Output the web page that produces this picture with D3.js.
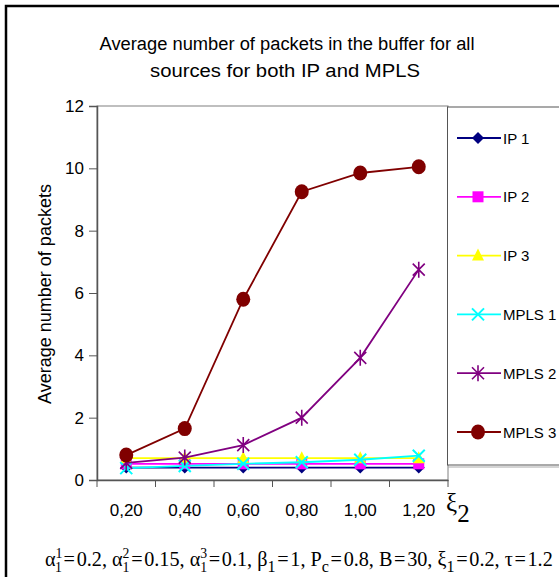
<!DOCTYPE html>
<html><head><meta charset="utf-8">
<script src="https://cdn.jsdelivr.net/npm/d3@7/dist/d3.min.js"></script>
<style>body{margin:0;background:#fff}svg{display:block}</style>
</head><body>
<svg id="chart" width="559" height="577"></svg>
<script>
const categories = ["0,20","0,40","0,60","0,80","1,00","1,20"];
const ip1   = [0.40,0.40,0.40,0.40,0.40,0.40];
const ip2   = [0.52,0.52,0.52,0.52,0.52,0.52];
const ip3   = [0.70,0.70,0.70,0.70,0.70,0.70];
const mpls1 = [0.38,0.45,0.52,0.57,0.65,0.78];
const mpls2 = [0.55,0.72,1.12,2.00,3.92,6.75];
const mpls3 = [0.80,1.65,5.80,9.25,9.85,10.05];
const seriesNames = ["IP 1","IP 2","IP 3","MPLS 1","MPLS 2","MPLS 3"];
const yTicks = [0,2,4,6,8,10,12];

const series = [
  {name:seriesNames[0], values:ip1,   color:"#000080", marker:"diamond"},
  {name:seriesNames[1], values:ip2,   color:"#FF00FF", marker:"square"},
  {name:seriesNames[2], values:ip3,   color:"#FFFF00", marker:"triangle"},
  {name:seriesNames[3], values:mpls1, color:"#00FFFF", marker:"x"},
  {name:seriesNames[4], values:mpls2, color:"#800080", marker:"star"},
  {name:seriesNames[5], values:mpls3, color:"#800000", marker:"circle"}
];

const svg = d3.select("#chart");
const L=97, R=448, T=106, B=480;
const sans = "'Liberation Sans', Arial, sans-serif";
const serif = "'Liberation Serif', 'Times New Roman', serif";

// outer frame
svg.append("rect").attr("x",6).attr("y",6).attr("width",620).attr("height",620)
  .attr("fill","none").attr("stroke","#000").attr("stroke-width",2.5);

// title
svg.append("text").attr("x",287).attr("y",50).attr("text-anchor","middle")
  .attr("font-family",sans).attr("font-size",18).attr("fill","#000")
  .attr("textLength",375).attr("lengthAdjust","spacingAndGlyphs")
  .text("Average number of packets in the buffer for all");
svg.append("text").attr("x",285).attr("y",77).attr("text-anchor","middle")
  .attr("font-family",sans).attr("font-size",18).attr("fill","#000")
  .attr("textLength",270).attr("lengthAdjust","spacingAndGlyphs")
  .text("sources for both IP and MPLS");

const x = d3.scaleBand().domain(categories).range([L,R]);
const y = d3.scaleLinear().domain([0,12]).range([B,T]);

// plot frame
svg.append("rect").attr("x",L).attr("y",T).attr("width",R-L).attr("height",B-T)
  .attr("fill","#fff").attr("stroke","#808080").attr("stroke-width",1);

// y axis
const ya = svg.append("g").attr("transform",`translate(${L},0)`)
  .call(d3.axisLeft(y).tickValues(yTicks).tickSize(8).tickPadding(5).tickFormat(d3.format("d")));
ya.select(".domain").attr("stroke","#555").attr("stroke-width",1.5);
ya.selectAll(".tick line").attr("stroke","#555");
ya.selectAll("text").attr("font-family",sans).attr("font-size",17).attr("fill","#000");

// x axis labels
const xa = svg.append("g").attr("transform",`translate(0,${B})`)
  .call(d3.axisBottom(x).tickSize(0).tickPadding(24));
xa.select(".domain").attr("stroke","#555").attr("stroke-width",1.5);
xa.selectAll("text").attr("font-family",sans).attr("font-size",17).attr("fill","#000");
// x boundary ticks
const bounds = categories.map(c=>x(c)).concat([x(categories[categories.length-1])+x.bandwidth()]);
svg.append("g").selectAll("line").data(bounds).join("line")
  .attr("x1",d=>d).attr("x2",d=>d).attr("y1",B).attr("y2",B+7)
  .attr("stroke","#555").attr("stroke-width",1);

// xi_2
svg.append("text").attr("x",446).attr("y",511).attr("font-family",serif).attr("font-size",25)
  .text("ξ").append("tspan").attr("dy",11).text("2");

// y label
svg.append("text").attr("transform","translate(51,294) rotate(-90)").attr("text-anchor","middle")
  .attr("font-family",sans).attr("font-size",18).attr("fill","#000")
  .text("Average number of packets");

function drawMarker(g, type, color){
  switch(type){
    case "diamond":
      g.append("path").attr("d","M0,-6L6,0L0,6L-6,0Z").attr("fill",color); break;
    case "square":
      g.append("rect").attr("x",-5.5).attr("y",-5.5).attr("width",11).attr("height",11).attr("fill",color); break;
    case "triangle":
      g.append("path").attr("d","M0,-7L6,5L-6,5Z").attr("fill",color); break;
    case "x":
      g.append("path").attr("d","M-6,-6L6,6M-6,6L6,-6").attr("stroke",color).attr("stroke-width",2).attr("fill","none"); break;
    case "star":
      g.append("path").attr("d","M-6,-6L6,6M-6,6L6,-6M0,-8L0,8").attr("stroke",color).attr("stroke-width",1.6).attr("fill","none"); break;
    case "circle":
      g.append("ellipse").attr("rx",7).attr("ry",7.5).attr("fill",color); break;
  }
}

const line = d3.line().x((d,i)=>x(categories[i])+x.bandwidth()/2).y(d=>y(d));
series.forEach(s=>{
  const g = svg.append("g");
  g.append("path").datum(s.values).attr("d",line).attr("fill","none")
    .attr("stroke",s.color).attr("stroke-width",1.8);
  s.values.forEach((v,i)=>{
    const m = g.append("g").attr("transform",`translate(${x(categories[i])+x.bandwidth()/2},${y(v)})`);
    drawMarker(m,s.marker,s.color);
  });
});

// legend
svg.append("line").attr("x1",448).attr("x2",560).attr("y1",467).attr("y2",467).attr("stroke","#aaa").attr("stroke-width",1);
svg.append("rect").attr("x",447.5).attr("y",107).attr("width",130).attr("height",358)
  .attr("fill","#fff").attr("stroke","#555").attr("stroke-width",1);
const legY = d3.scalePoint().domain(seriesNames).range([138,432]);
series.forEach(s=>{
  const yy = legY(s.name);
  svg.append("line").attr("x1",457).attr("x2",501).attr("y1",yy).attr("y2",yy)
    .attr("stroke",s.color).attr("stroke-width",1.8);
  drawMarker(svg.append("g").attr("transform",`translate(478,${yy})`), s.marker, s.color);
  svg.append("text").attr("x",503).attr("y",yy+5.5).attr("font-family",sans).attr("font-size",15).text(s.name);
});

// formula as a single text element
const tokens = [
  {m:"α", sup:"1", sub:"1"},
  {m:"\u200A=\u200A0.2, α", sup:"2", sub:"1"},
  {m:"\u200A=\u200A0.15, α", sup:"3", sub:"1"},
  {m:"\u200A=\u200A0.1, β", sub:"1"},
  {m:"\u200A=\u200A1, P", sub:"c"},
  {m:"\u200A=\u200A0.8, B\u200A=\u200A30, ξ", sub:"1"},
  {m:"\u200A=\u200A0.2, τ\u200A=\u200A1.2"}
];
function layoutFormula(fs){
  const t = svg.append("text").attr("x",45).attr("y",566).attr("font-family",serif).attr("font-size",fs).attr("fill","#000");
  const supUp = fs*0.42, subDown = fs*0.3;
  let shift = 0;
  tokens.forEach(tk=>{
    t.append("tspan").attr("dy",-shift).text(tk.m);
    shift = 0;
    if(tk.sup){
      const s = t.append("tspan").attr("dy",-supUp).attr("font-size",fs*0.68).text(tk.sup);
      const w = s.node().getComputedTextLength();
      t.append("tspan").attr("dx",-w).attr("dy",supUp+subDown).attr("font-size",fs*0.68).text(tk.sub);
      shift = subDown;
    } else if(tk.sub){
      t.append("tspan").attr("dy",subDown).attr("font-size",fs*0.8).text(tk.sub);
      shift = subDown;
    }
  });
  return t;
}
let ft = layoutFormula(18);
const fw = ft.node().getBBox().width;
ft.remove();
layoutFormula(18*508/fw);
</script>
</body></html>
